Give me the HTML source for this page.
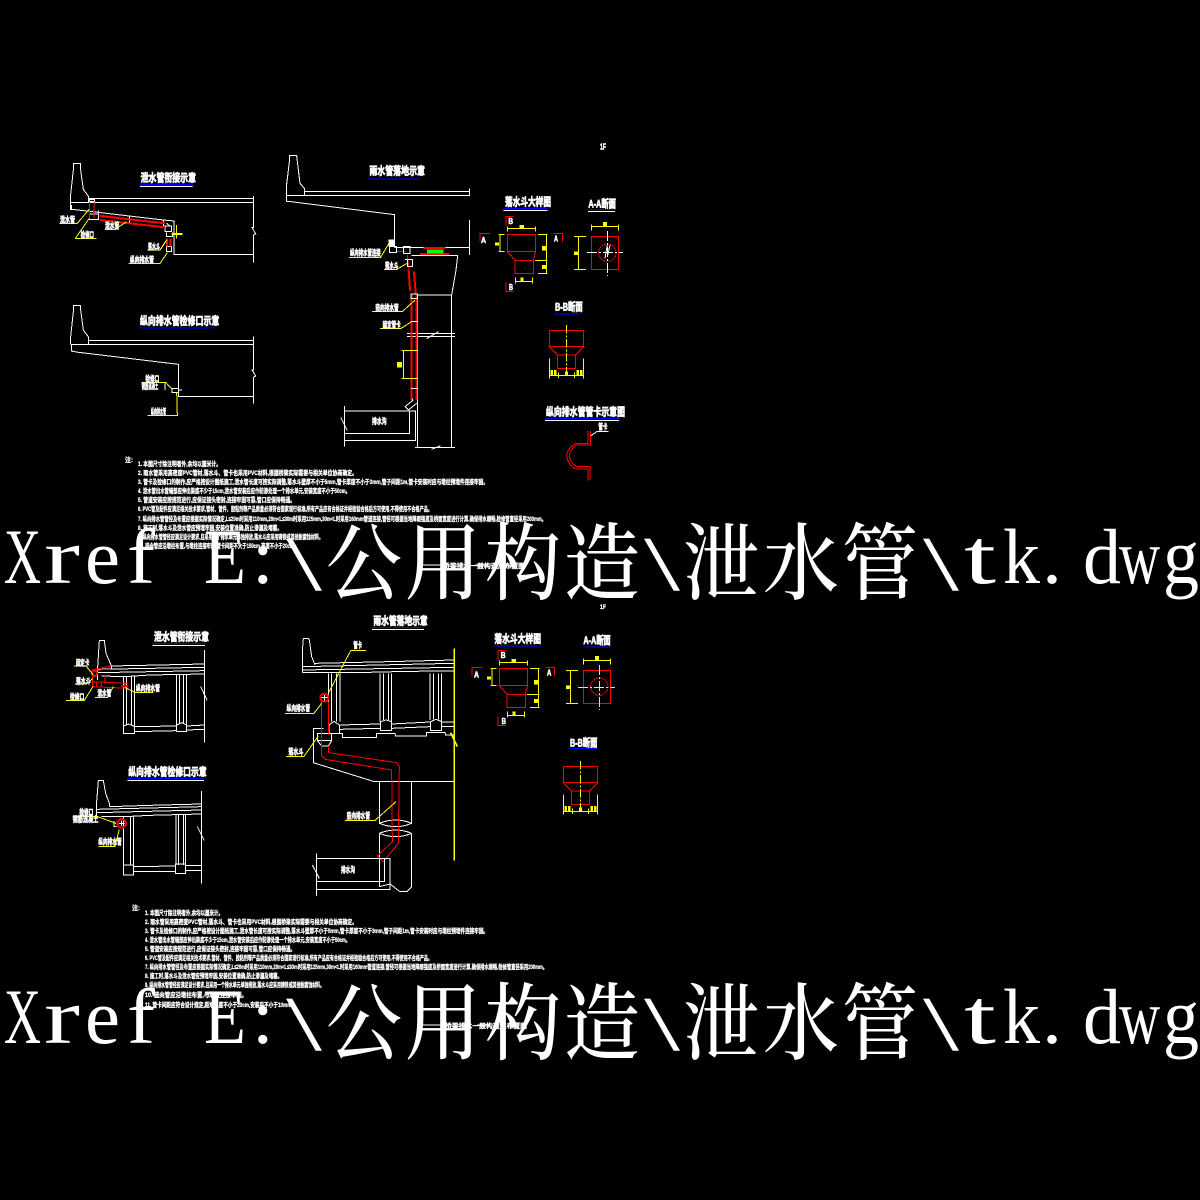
<!DOCTYPE html>
<html><head><meta charset="utf-8"><title>泄水管</title>
<style>
html,body{margin:0;padding:0;background:#000;width:1200px;height:1200px;overflow:hidden}
svg{display:block}
.w,.y,.r,.b,.g{fill:none;stroke-width:3;shape-rendering:crispEdges}
.w{stroke:#fff}.y{stroke:#ff0}.r{stroke:#f00}.b{stroke:#00f}
.th{stroke-width:6}
.fy{fill:#ff0;stroke:none;shape-rendering:crispEdges}
.l{fill:#fff;stroke:#fff;stroke-width:1.6;font-family:"Liberation Sans","Noto Sans CJK SC",sans-serif;font-weight:700;font-size:24px}
.tt{fill:#fff;stroke:#fff;stroke-width:2.2;font-family:"Liberation Sans","Noto Sans CJK SC",sans-serif;font-weight:700;font-size:33px}
.n{fill:#fff;stroke:#fff;stroke-width:.3;font-family:"Liberation Sans","Noto Sans CJK SC",sans-serif;font-weight:700;font-size:6.5px}
.big{fill:#fff;font-family:"Liberation Serif","Noto Serif CJK SC",serif;font-size:78px}
.cj{fill:#fff;font-family:"Liberation Serif","Noto Serif CJK SC",serif;font-size:84px;font-weight:500}
</style></head><body>
<svg xmlns="http://www.w3.org/2000/svg" width="1200" height="1200" viewBox="0 0 1200 1200">
<rect width="1200" height="1200" fill="#000"/>
<defs>
<g id="fun">
<path class="r" d="M112 283H197V335H112ZM112 335L135 360M197 335L190 360M135 361H190V401H135Z"/>
<path class="r" d="M130 230H108V260M60 280H30V305M250 280H278V305M108 427V455H130"/>
<path class="y" d="M112 265H197M112 260V275M197 260V275M90 283V335M85 283H104M85 335H104M229 283V401M204 283H232M195 361H232M204 401H232M137 425H187M137 412V430M187 412V430"/>
<path class="fy" d="M148 255h14v10h-14zM75 307h12v10h-12zM216 318h14v14h-14zM216 375h14v12h-14zM152 412h8v13h-8z"/>
<path class="r" d="M364 289H446V389H364Z"/>
<circle class="r" cx="412" cy="338" r="26" stroke-dasharray="6 2"/>
<path class="y" d="M364 259H446M364 253V272M446 253V272M325 289V388M312 289H348M312 388H348"/>
<path class="fy" d="M399 246h12v13h-12zM312 334h13v11h-13z"/>
</g>
<g id="bb">
<path class="r" d="M238 571H341V620H238ZM238 620L262 645M341 620L317 645M262 645H317V686H262Z"/>
<path class="y" d="M289 555V700" stroke-dasharray="26 5 6 5"/>
<path class="y" d="M238 655V716M341 655V716M238 706H341M266 698V714M313 698V714"/>
<path class="fy" d="M241 690h8v16h-8zM252 690h8v16h-8zM285 694h9v12h-9zM319 690h8v16h-8zM330 690h8v16h-8z"/>
</g>
</defs>

<!-- Top left -->
<g transform="translate(50 140) scale(.33333)">
<path class="w" d="M62 210V163L70 90V70H92V90L100 148L116 170V187M116 175H610M62 187H610M65 195V208L110 213L340 240L372 243V343H610M610 168V262L606 262L617 282L610 285V368"/>
<path class="w" d="M118 222H145V238H118ZM145 212V238M238 228V250M340 240V262M345 258H365V275H345ZM350 250L360 258M350 277V290H368V277M350 320H365V335H350ZM118 178H134V184H118Z" />
<path class="r" d="M118 185V235M132 185V235M145 225L345 250" /><path class="r th" d="M150 228L345 250M150 240L345 262M351 295V320M362 295V320"/>
<path class="y" d="M28 250H82L118 207M76 295H140M76 295L118 235M165 268H195L230 245M292 330H330L350 300M235 370H330L352 338M365 282H398M380 255V295"/>
<path class="y th" d="M368 282H398"/>
<path class="b th" d="M270 133H430"/><path class="w" d="M270 139H428"/>
<text class="tt" x="272" y="124" textLength="166" lengthAdjust="spacingAndGlyphs">泄水管衔接示意</text>
<text class="l" x="30" y="248" textLength="45" lengthAdjust="spacingAndGlyphs">泄水管</text>
<text class="l" x="92" y="293" textLength="40" lengthAdjust="spacingAndGlyphs">检修口</text>
<text class="l" x="165" y="266" textLength="43" lengthAdjust="spacingAndGlyphs">泄水管</text>
<text class="l" x="294" y="328" textLength="36" lengthAdjust="spacingAndGlyphs">落水斗</text>
<text class="l" x="240" y="368" textLength="72" lengthAdjust="spacingAndGlyphs">纵向排水管</text>

<path class="w" d="M62 612V590L70 515V496H92V510L100 570L116 592V612M116 601H610M62 613H610M65 615V633L78 636L385 673V769H610M610 590V690L606 690L617 708L610 712V790"/>
<path class="w" d="M345 728V750M366 745H385V758H366ZM385 750H396"/>
<path class="y" d="M275 728H348L368 750M380 758L382 826H292"/>
<text class="tt" x="270" y="554" textLength="238" lengthAdjust="spacingAndGlyphs">纵向排水管检修口示意</text>
<path class="b" d="M267 564H492"/>
<text class="l" x="286" y="725" textLength="42" lengthAdjust="spacingAndGlyphs">检修口</text>
<text class="l" x="275" y="747" textLength="50" lengthAdjust="spacingAndGlyphs">钢筋混凝土</text>
<text class="l" x="303" y="823" textLength="45" lengthAdjust="spacingAndGlyphs">纵向排水管</text>
</g>

<!-- Top middle -->
<g transform="translate(270 140) scale(.33333)">
<path class="w" d="M49 185V140L54 100L58 65V46H80L82 65L90 130L103 145V165M103 154H600M49 166H600M49 185H63L374 224V322M374 322H460M525 322H600M598 145V165M598 240V345"/>
<path class="r th" d="M460 324H527M450 342H537"/>
<rect x="471" y="328" width="49" height="12" fill="#0f0" shape-rendering="crispEdges"/>
<path class="w" d="M425 347H563L558 390L552 425L545 465H443M443 465V922M545 465V922M411 580H555M411 590H555M470 596L505 575M435 922H555M485 928L512 917"/>
<path class="r th" d="M425 465V780M440 465V780"/>
<path class="r" d="M412 345L418 400L422 455M430 395L437 460M380 335H410"/>
<path class="r th" d="M416 390L420 450M432 395L437 460"/>
<path class="w" d="M423 462H443V475H423ZM423 545H443M423 745H443M405 800L430 780M415 810L440 790M405 800L415 810M428 775V782M405 358H428V380H412V358M400 320H420V340H400ZM358 320H380V338H358Z"/>
<rect x="355" y="298" width="20" height="22" fill="#fff" shape-rendering="crispEdges"/>
<path class="y" d="M395 631H442M395 715H442M400 631V715M237 352H332L357 310M342 388H380L415 368M306 514H398L435 480M330 566H392L423 546"/>
<rect class="fy" x="381" y="666" width="15" height="17"/>
<path class="w" d="M223 813H437V902H223ZM418 813V880H225M223 798V920M212 832L232 872"/>
<text class="tt" x="298" y="104" textLength="167" lengthAdjust="spacingAndGlyphs">雨水管落地示意</text>
<path class="b" d="M294 117H450"/>
<text class="l" x="240" y="347" textLength="92" lengthAdjust="spacingAndGlyphs">纵向排水管连接</text>
<text class="l" x="345" y="386" textLength="40" lengthAdjust="spacingAndGlyphs">落水斗</text>
<text class="l" x="316" y="511" textLength="70" lengthAdjust="spacingAndGlyphs">竖向排水管</text>
<text class="l" x="338" y="563" textLength="54" lengthAdjust="spacingAndGlyphs">固定管卡</text>
<text class="l" x="306" y="852" textLength="44" lengthAdjust="spacingAndGlyphs">排水沟</text>
</g>

<!-- Top right -->
<g transform="translate(470 140) scale(.33333)">
<use href="#fun"/><use href="#bb"/>
<path class="w" d="M351 337H459M412 273V408" stroke-dasharray="30 6 6 6"/>
<path class="w" d="M412 315L405 355M420 315L412 350"/>
<text class="tt" x="105" y="197" textLength="138" lengthAdjust="spacingAndGlyphs">落水斗大样图</text>
<path class="b" d="M100 205H233"/><path class="w" d="M100 211H233"/>
<text class="tt" x="355" y="203" textLength="83" lengthAdjust="spacingAndGlyphs">A-A断面</text>
<path class="b" d="M354 209H435"/><path class="w" d="M354 214H435"/>
<text class="tt" x="255" y="512" textLength="83" lengthAdjust="spacingAndGlyphs">B-B断面</text>
<path class="b" d="M252 522H333"/>
<text class="tt" x="228" y="827" textLength="237" lengthAdjust="spacingAndGlyphs">纵向排水管管卡示意图</text>
<path class="b" d="M225 835H447"/><path class="w" d="M225 841H447"/>
<text class="l" x="115" y="252" textLength="14" lengthAdjust="spacingAndGlyphs">B</text>
<text class="l" x="33" y="309" textLength="15" lengthAdjust="spacingAndGlyphs">A</text>
<text class="l" x="252" y="304" textLength="12" lengthAdjust="spacingAndGlyphs">A</text>
<text class="l" x="117" y="450" textLength="12" lengthAdjust="spacingAndGlyphs">B</text>
<text class="l" x="390" y="28" textLength="18" lengthAdjust="spacingAndGlyphs">1F</text>
<path class="r" d="M354 873V910H320C300 918 290 935 290 948C292 965 305 985 322 987H354V1022M362 873V915H322C308 922 298 935 298 948C300 965 312 978 325 980H360V1022"/>
<path class="w" d="M362 888L380 875H416"/>
<text class="l" x="385" y="868" textLength="27" lengthAdjust="spacingAndGlyphs">管卡</text>
</g>

<!-- Notes top -->
<text class="n" x="125" y="462" textLength="8" lengthAdjust="spacingAndGlyphs">注:</text>
<g class="n">
<text class="n" x="138" y="466" textLength="83" lengthAdjust="spacingAndGlyphs">1. 本图尺寸除注明者外,余均以厘米计。</text>
<text class="n" x="138" y="475" textLength="219" lengthAdjust="spacingAndGlyphs">2. 雨水管采用高密度PVC管材,落水斗、管卡也采用PVC材料,根据桥梁实际需要与相关单位协商确定。</text>
<text class="n" x="138" y="484" textLength="350" lengthAdjust="spacingAndGlyphs">3. 管卡及检修口的制作,应严格按设计图纸施工,泄水管长度可按实际调整,落水斗壁厚不小于5mm,管卡厚度不小于3mm,管子间距1m,管卡安装时应与墩柱预埋件连接牢固。</text>
<text class="n" x="138" y="493" textLength="212" lengthAdjust="spacingAndGlyphs">4. 泄水管出水管端部应伸出梁底不少于15cm,泄水管安装后应作防渗处理一个排水单元,安装宽度不小于50cm。</text>
<text class="n" x="138" y="502" textLength="157" lengthAdjust="spacingAndGlyphs">5. 管道安装应按规范进行,应保证接头密封,连接牢固可靠,管口应保持畅通。</text>
<text class="n" x="138" y="511" textLength="294" lengthAdjust="spacingAndGlyphs">6. PVC管及配件应满足相关技术要求,管材、管件、胶粘剂等产品质量必须符合国家现行标准,所有产品应有合格证并经检验合格后方可使用,不得使用不合格产品。</text>
<text class="n" x="138" y="521" textLength="408" lengthAdjust="spacingAndGlyphs">7. 纵向排水管管径及布置应根据实际情况确定,L≤20m时采用110mm,20m&lt;L≤30m时采用125mm,30m&lt;L时采用160mm管道连接,管径可根据当地降雨强度及桥面宽度进行计算,确保排水顺畅,检修管直径采用200mm。</text>
<text class="n" x="138" y="530" textLength="144" lengthAdjust="spacingAndGlyphs">8. 施工时,落水斗及泄水管应预埋牢固,安装位置准确,防止渗漏及堵塞。</text>
<text class="n" x="138" y="539" textLength="185" lengthAdjust="spacingAndGlyphs">9. 纵向排水管管径应满足设计要求,且采用一个排水单元单独排放,落水斗应采用铸铁或其他耐腐蚀材料。</text>
<text class="n" x="138" y="548" textLength="160" lengthAdjust="spacingAndGlyphs">10. 竖向管应沿墩柱布置,与墩柱连接牢固,管卡间距不大于150cm,高度不小于20cm。</text>
</g>
<text class="n" x="443" y="568" textLength="82" lengthAdjust="spacingAndGlyphs">桥梁排水一般构造及布置图</text>
<path stroke="#fff" d="M420 565H443M475 565H488" shape-rendering="crispEdges"/>

<!-- Big xref text top -->
<g id="x1">
<text class="big" x="4" y="583" textLength="37" lengthAdjust="spacingAndGlyphs">X</text>
<text class="big" x="44" y="583" textLength="36" lengthAdjust="spacingAndGlyphs">r</text>
<text class="big" x="85" y="583" textLength="35" lengthAdjust="spacingAndGlyphs">e</text>
<text class="big" x="127" y="583" textLength="28" lengthAdjust="spacingAndGlyphs">f</text>
<text class="big" x="204" y="583" textLength="42" lengthAdjust="spacingAndGlyphs">E</text>
<text class="big" x="252" y="583">:</text>
<text class="big" x="286" y="590" textLength="36" lengthAdjust="spacingAndGlyphs">\</text>
<text class="cj" x="326" y="593" textLength="76" lengthAdjust="spacingAndGlyphs">公</text>
<text class="cj" x="405" y="593" textLength="76" lengthAdjust="spacingAndGlyphs">用</text>
<text class="cj" x="485" y="593" textLength="76" lengthAdjust="spacingAndGlyphs">构</text>
<text class="cj" x="564" y="593" textLength="76" lengthAdjust="spacingAndGlyphs">造</text>
<text class="big" x="644" y="590" textLength="36" lengthAdjust="spacingAndGlyphs">\</text>
<text class="cj" x="683" y="593" textLength="76" lengthAdjust="spacingAndGlyphs">泄</text>
<text class="cj" x="763" y="593" textLength="76" lengthAdjust="spacingAndGlyphs">水</text>
<text class="cj" x="842" y="593" textLength="76" lengthAdjust="spacingAndGlyphs">管</text>
<text class="big" x="923" y="590" textLength="36" lengthAdjust="spacingAndGlyphs">\</text>
<text class="big" x="964" y="583" textLength="32" lengthAdjust="spacingAndGlyphs">t</text>
<text class="big" x="1003" y="583" textLength="37" lengthAdjust="spacingAndGlyphs">k</text>
<text class="big" x="1042" y="583" textLength="20" lengthAdjust="spacingAndGlyphs">.</text>
<text class="big" x="1083" y="583" textLength="38" lengthAdjust="spacingAndGlyphs">d</text>
<text class="big" x="1119" y="583" textLength="41" lengthAdjust="spacingAndGlyphs">w</text>
<text class="big" x="1163" y="583" textLength="36" lengthAdjust="spacingAndGlyphs">g</text>
</g>

<!-- Lower left -->
<g transform="translate(50 620) scale(.33333)">
<path class="w" d="M143 180V140L148 62H163L168 100L185 140V145M185 138L325 135L463 132M143 148L463 142M143 158L463 152M155 168L225 170L300 165L463 162"/>
<path class="w" d="M220 170V342M230 170V315M244 170V315M254 170V340M380 165V335M389 165V310M400 165V310M410 165V335M254 320L380 318M254 335L380 332M410 318L463 315M410 330L463 328M220 342V318L237 312L254 320V340H220M380 335V315L395 308L410 315V335H380M463 90V368M452 200L472 242"/>
<path class="r" d="M127 150L180 138V148L140 150M127 185L235 190M127 200L235 205M165 165V190M127 150V200M140 185V200M155 185V200"/>
<circle class="r th" cx="133" cy="160" r="8"/>
<path class="r th" d="M215 198H235M225 190V206"/>
<path class="y" d="M72 138H108L130 165M75 192H110L128 175M48 241H103L130 198M135 233H172L190 200M310 217H255L225 203"/>
<text class="tt" x="312" y="61" textLength="165" lengthAdjust="spacingAndGlyphs">泄水管衔接示意</text>
<path class="b" d="M308 71H465"/><path class="w" d="M308 76H465"/>
<text class="l" x="78" y="136" textLength="40" lengthAdjust="spacingAndGlyphs">固定卡</text>
<text class="l" x="78" y="192" textLength="44" lengthAdjust="spacingAndGlyphs">落水斗</text>
<text class="l" x="60" y="238" textLength="43" lengthAdjust="spacingAndGlyphs">检修口</text>
<text class="l" x="142" y="228" textLength="42" lengthAdjust="spacingAndGlyphs">泄水管</text>
<text class="l" x="258" y="213" textLength="72" lengthAdjust="spacingAndGlyphs">纵向排水管</text>

<path class="w" d="M140 595V545L145 482H160L167 520L178 550V560M178 560L300 556L454 552M140 568L454 560M140 578L454 570M155 590L225 590L300 586L454 582"/>
<path class="w" d="M220 590V765M242 590V735M250 590V762M378 585V735M385 585V735M400 585V735M406 585V760M250 740L376 738M250 755L376 755M406 737L454 737M406 752L454 752M220 735H250V765H220ZM376 732H406V760H376ZM454 513V790M442 620L463 662"/>
<circle class="r th" cx="215" cy="610" r="13"/>
<path class="w" d="M207 610H224M215 602V618M192 603V620H200"/>
<path class="y" d="M75 589H140L198 610M145 679H195L208 628"/>
<text class="tt" x="235" y="466" textLength="235" lengthAdjust="spacingAndGlyphs">纵向排水管检修口示意</text>
<path class="b" d="M232 476H462"/><path class="w" d="M232 481H462"/>
<text class="l" x="88" y="585" textLength="42" lengthAdjust="spacingAndGlyphs">检修口</text>
<text class="l" x="68" y="606" textLength="77" lengthAdjust="spacingAndGlyphs">钢筋混凝土</text>
<text class="l" x="145" y="673" textLength="70" lengthAdjust="spacingAndGlyphs">纵向排水管</text>
</g>

<!-- Lower middle -->
<g transform="translate(280 610) scale(.33333)">
<path class="w" d="M67 187V125L70 85H85L88 90L95 140L105 165M105 160L325 155L523 150M67 170L523 160M67 180L523 172M67 187H150L225 188L385 184L523 183"/>
<path class="w" d="M145 190V335M155 190V335M170 190V335M180 190V335M300 190V335M310 190V330M325 190V330M335 190V335M450 190V330M460 190V328M475 190V328M485 190V335M180 345L300 342M180 358L300 355M335 342L450 336M335 355L450 350M485 336H523M485 350H523M147 345V370H178V345L162 334ZM302 335L318 330L335 335V362H302ZM452 335L468 328L485 335V362H452Z"/>
<path class="w" d="M130 355H100V458L280 514H523M160 370H187V382H290V370H345L347 378H440V368H495L497 375H523M298 514V640M395 514V640M298 640Q347 660 395 640M298 640Q347 620 395 640M298 670V830M395 670V830M298 670Q347 650 395 670M298 670Q347 690 395 670M298 830L330 822L360 845H380L395 830M112 370H155V392H112ZM112 392L125 408H145L155 392"/>
<path class="r" d="M124 275V435L135 448L335 480L337 695L292 738L310 755L355 700L358 470L350 458L145 428V408M145 275V375"/>
<circle class="r th" cx="133" cy="263" r="12"/>
<path class="w" d="M124 263H142M133 255V272"/>
<path class="w" d="M109 730V858M109 745H330V838H109M314 745V815H109M97 765L118 805"/>
<path class="y" d="M258 122H212L145 250M15 310H102L125 280M18 439H72L115 378M195 631H285L348 575"/>
<path class="y" style="stroke-width:5" d="M523 115V752M512 368L532 410"/>
<text class="tt" x="280" y="44" textLength="163" lengthAdjust="spacingAndGlyphs">雨水管落地示意</text>
<path class="b" d="M276 53H432"/><path class="w" d="M276 58H432"/>
<text class="l" x="220" y="114" textLength="26" lengthAdjust="spacingAndGlyphs">管卡</text>
<text class="l" x="20" y="303" textLength="70" lengthAdjust="spacingAndGlyphs">纵向排水管</text>
<text class="l" x="25" y="434" textLength="45" lengthAdjust="spacingAndGlyphs">落水斗</text>
<text class="l" x="200" y="625" textLength="70" lengthAdjust="spacingAndGlyphs">竖向排水管</text>
<text class="l" x="183" y="787" textLength="42" lengthAdjust="spacingAndGlyphs">排水沟</text>
</g>

<!-- Lower right -->
<g transform="translate(460 620) scale(.33333)">
<g transform="translate(6 -138)"><use href="#fun"/></g>
<g transform="translate(72 -132)"><use href="#bb"/></g>
<path class="y" d="M354 202H465M418 135V270" stroke-dasharray="30 6 6 6"/>
<text class="tt" x="103" y="67" textLength="140" lengthAdjust="spacingAndGlyphs">落水斗大样图</text>
<path class="b" d="M100 78H237"/>
<text class="tt" x="370" y="72" textLength="82" lengthAdjust="spacingAndGlyphs">A-A断面</text>
<path class="b" d="M370 81H452"/>
<text class="tt" x="330" y="380" textLength="82" lengthAdjust="spacingAndGlyphs">B-B断面</text>
<path class="b" d="M327 386H410"/>
<text class="l" x="122" y="114" textLength="15" lengthAdjust="spacingAndGlyphs">B</text>
<text class="l" x="42" y="172" textLength="15" lengthAdjust="spacingAndGlyphs">A</text>
<text class="l" x="261" y="166" textLength="13" lengthAdjust="spacingAndGlyphs">A</text>
<text class="l" x="125" y="312" textLength="13" lengthAdjust="spacingAndGlyphs">B</text>
</g>
<text class="n" x="600" y="609" textLength="6" lengthAdjust="spacingAndGlyphs">1F</text>

<!-- Notes bottom -->
<text class="n" x="132" y="910" textLength="8" lengthAdjust="spacingAndGlyphs">注:</text>
<text class="n" x="145" y="915" textLength="78" lengthAdjust="spacingAndGlyphs">1. 本图尺寸除注明者外,余均以厘米计。</text>
<text class="n" x="145" y="924" textLength="212" lengthAdjust="spacingAndGlyphs">2. 雨水管采用高密度PVC管材,落水斗、管卡也采用PVC材料,根据桥梁实际需要与相关单位协商确定。</text>
<text class="n" x="145" y="933" textLength="343" lengthAdjust="spacingAndGlyphs">3. 管卡及检修口的制作,应严格按设计图纸施工,泄水管长度可按实际调整,落水斗壁厚不小于5mm,管卡厚度不小于3mm,管子间距1m,管卡安装时应与墩柱预埋件连接牢固。</text>
<text class="n" x="145" y="942" textLength="205" lengthAdjust="spacingAndGlyphs">4. 泄水管出水管端部应伸出梁底不少于15cm,泄水管安装后应作防渗处理一个排水单元,安装宽度不小于50cm。</text>
<text class="n" x="145" y="951" textLength="150" lengthAdjust="spacingAndGlyphs">5. 管道安装应按规范进行,应保证接头密封,连接牢固可靠,管口应保持畅通。</text>
<text class="n" x="145" y="960" textLength="287" lengthAdjust="spacingAndGlyphs">6. PVC管及配件应满足相关技术要求,管材、管件、胶粘剂等产品质量必须符合国家现行标准,所有产品应有合格证并经检验合格后方可使用,不得使用不合格产品。</text>
<text class="n" x="145" y="969" textLength="402" lengthAdjust="spacingAndGlyphs">7. 纵向排水管管径及布置应根据实际情况确定,L≤20m时采用110mm,20m&lt;L≤30m时采用125mm,30m&lt;L时采用160mm管道连接,管径可根据当地降雨强度及桥面宽度进行计算,确保排水顺畅,检修管直径采用200mm。</text>
<text class="n" x="145" y="978" textLength="137" lengthAdjust="spacingAndGlyphs">8. 施工时,落水斗及泄水管应预埋牢固,安装位置准确,防止渗漏及堵塞。</text>
<text class="n" x="145" y="987" textLength="179" lengthAdjust="spacingAndGlyphs">9. 纵向排水管管径应满足设计要求,且采用一个排水单元单独排放,落水斗应采用铸铁或其他耐腐蚀材料。</text>
<text class="n" x="145" y="997" textLength="102" lengthAdjust="spacingAndGlyphs">10. 竖向管应沿墩柱布置,与墩柱连接牢固。</text>
<text class="n" x="145" y="1007" textLength="151" lengthAdjust="spacingAndGlyphs">11. 管卡间距应符合设计规定,距地高度不小于20cm,安装后不小于10mm。</text>
<text class="n" x="445" y="1028" textLength="82" lengthAdjust="spacingAndGlyphs">桥梁排水一般构造及布置图</text>
<path stroke="#fff" d="M420 1025H445M477 1025H490" shape-rendering="crispEdges"/>

<!-- Big xref text bottom -->
<g>
<text class="big" x="4" y="1043" textLength="37" lengthAdjust="spacingAndGlyphs">X</text>
<text class="big" x="44" y="1043" textLength="36" lengthAdjust="spacingAndGlyphs">r</text>
<text class="big" x="85" y="1043" textLength="35" lengthAdjust="spacingAndGlyphs">e</text>
<text class="big" x="127" y="1043" textLength="28" lengthAdjust="spacingAndGlyphs">f</text>
<text class="big" x="204" y="1043" textLength="42" lengthAdjust="spacingAndGlyphs">E</text>
<text class="big" x="252" y="1043">:</text>
<text class="big" x="286" y="1050" textLength="36" lengthAdjust="spacingAndGlyphs">\</text>
<text class="cj" x="326" y="1053" textLength="76" lengthAdjust="spacingAndGlyphs">公</text>
<text class="cj" x="405" y="1053" textLength="76" lengthAdjust="spacingAndGlyphs">用</text>
<text class="cj" x="485" y="1053" textLength="76" lengthAdjust="spacingAndGlyphs">构</text>
<text class="cj" x="564" y="1053" textLength="76" lengthAdjust="spacingAndGlyphs">造</text>
<text class="big" x="644" y="1050" textLength="36" lengthAdjust="spacingAndGlyphs">\</text>
<text class="cj" x="683" y="1053" textLength="76" lengthAdjust="spacingAndGlyphs">泄</text>
<text class="cj" x="763" y="1053" textLength="76" lengthAdjust="spacingAndGlyphs">水</text>
<text class="cj" x="842" y="1053" textLength="76" lengthAdjust="spacingAndGlyphs">管</text>
<text class="big" x="923" y="1050" textLength="36" lengthAdjust="spacingAndGlyphs">\</text>
<text class="big" x="964" y="1043" textLength="32" lengthAdjust="spacingAndGlyphs">t</text>
<text class="big" x="1003" y="1043" textLength="37" lengthAdjust="spacingAndGlyphs">k</text>
<text class="big" x="1042" y="1043" textLength="20" lengthAdjust="spacingAndGlyphs">.</text>
<text class="big" x="1083" y="1043" textLength="38" lengthAdjust="spacingAndGlyphs">d</text>
<text class="big" x="1119" y="1043" textLength="41" lengthAdjust="spacingAndGlyphs">w</text>
<text class="big" x="1163" y="1043" textLength="36" lengthAdjust="spacingAndGlyphs">g</text>
</g>
</svg>
</body></html>
